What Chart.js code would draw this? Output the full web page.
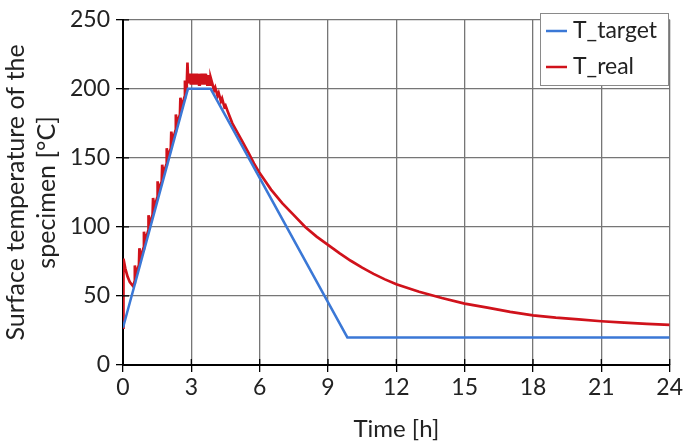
<!DOCTYPE html>
<html>
<head>
<meta charset="utf-8">
<script src="https://cdn.jsdelivr.net/npm/chart.js@4/dist/chart.umd.min.js"></script>
<style>
  html, body { margin: 0; padding: 0; background: #fff; }
  #wrap { width: 685px; height: 446px; position: relative; }
</style>
</head>
<body>
<div id="wrap"><canvas id="tempChart"></canvas></div>
<script>
// target profile (h, °C)
var targetTime = [0, 2.85, 3.85, 9.85, 24];
var targetTemp = [27, 200, 200, 20, 20];

var realTime = [0, 0.02, 0.1, 0.2, 0.3, 0.45,
    0.5, 0.52, 0.58, 0.7, 0.72, 0.78, 0.9, 0.92, 0.98, 1.1, 1.12, 1.18,
    1.3, 1.32, 1.38, 1.5, 1.52, 1.58, 1.7, 1.72, 1.78, 1.9, 1.92, 1.98,
    2.1, 2.12, 2.18, 2.3, 2.32, 2.38, 2.5, 2.52, 2.58, 2.7, 2.72, 2.78,
    2.8, 2.83, 2.86, 2.89, 2.92, 2.95, 2.98, 3.01, 3.04, 3.07, 3.1, 3.13,
    3.16, 3.19, 3.22, 3.25, 3.28, 3.31, 3.34, 3.37, 3.4, 3.43, 3.46, 3.49,
    3.52, 3.55, 3.58, 3.61, 3.64, 3.67, 3.7, 3.73, 3.76, 3.79, 3.82, 3.85, 3.9,
    4.0, 4.05, 4.15, 4.2, 4.3, 4.35, 4.45, 4.5, 4.6, 4.8, 5.0, 5.25, 5.5, 5.75,
    6, 6.25, 6.5, 7, 7.5, 8, 8.5, 9, 9.5, 10, 10.5, 11, 11.5, 12,
    13, 14, 15, 16, 17, 18, 19, 20, 21, 22, 23, 24];
var realTemp = [27, 77, 70, 64, 60, 57,
    60, 72, 66, 72.5, 84.5, 78, 84.6, 96.5, 90, 96.8, 108.5, 102,
    109, 121, 114.5, 121, 133, 126.5, 133, 145, 138.5, 145, 157, 150.5,
    157, 169, 162.5, 169.5, 181.5, 175, 181.5, 193.5, 187, 194, 206, 199,
    203, 219, 205, 211, 204, 211, 203, 211, 204, 210, 203, 211,
    204, 210, 203, 211, 204, 210, 203, 211, 204, 210, 203, 211,
    204, 210, 203, 211, 204, 210, 203, 210, 204, 209, 203, 208, 205,
    199, 201, 195, 197, 191, 193, 187, 188, 183.5, 175, 169, 161.5, 154, 146,
    139, 133, 127, 117, 108.5, 100, 93, 87, 81, 75.5, 70.5, 66, 62, 58.5,
    53, 48.5, 44.5, 41.5, 38.5, 36, 34.3, 33, 31.7, 30.7, 29.8, 29];

var xTicks = [0, 3, 6, 9, 12, 15, 18, 21, 24];
var yTicks = [0, 50, 100, 150, 200, 250];

function toPoints(xs, ys) {
    return xs.map(function(x, i) { return {x: x, y: ys[i]}; });
}

var FONT = 'Lato, "Liberation Sans", sans-serif';

// legend box drawn inside the plot, top right
var boxLegend = {
    id: 'boxLegend',
    afterDraw: function(chart) {
        var ctx = chart.ctx;
        var x0 = 540, y0 = 13, w = 128, h = 72;
        ctx.save();
        ctx.fillStyle = '#fff';
        ctx.fillRect(x0, y0, w, h);
        ctx.strokeStyle = '#8a8a8a';
        ctx.lineWidth = 1;
        ctx.strokeRect(x0 + 0.5, y0 + 0.5, w, h);
        ctx.font = '23px ' + FONT;
        ctx.textBaseline = 'middle';
        chart.data.datasets.forEach(function(ds, i) {
            var y = y0 + 18 + i * 36;
            ctx.strokeStyle = ds.borderColor;
            ctx.lineWidth = 2.5;
            ctx.beginPath();
            ctx.moveTo(x0 + 6, y);
            ctx.lineTo(x0 + 27, y);
            ctx.stroke();
            ctx.fillStyle = '#222';
            ctx.fillText(ds.label, x0 + 33, y);
        });
        ctx.restore();
    }
};

// short black tick marks reaching into the plot, as in the original
var innerTicks = {
    id: 'innerTicks',
    afterDatasetsDraw: function(chart) {
        var ctx = chart.ctx, a = chart.chartArea;
        var xs = chart.scales.x, ys = chart.scales.y;
        ctx.save();
        ctx.strokeStyle = '#000';
        ctx.lineWidth = 1.3;
        ctx.beginPath();
        xTicks.forEach(function(v) {
            var px = xs.getPixelForValue(v);
            ctx.moveTo(px, a.bottom);
            ctx.lineTo(px, a.bottom - 6);
        });
        yTicks.forEach(function(v) {
            var py = ys.getPixelForValue(v);
            ctx.moveTo(a.left, py);
            ctx.lineTo(a.left + 6, py);
        });
        ctx.stroke();
        ctx.restore();
    }
};

new Chart(document.getElementById('tempChart').getContext('2d'), {
    type: 'line',
    data: {
        datasets: [{
            label: 'T_target',
            data: toPoints(targetTime, targetTemp),
            borderColor: '#3b78d6',
            borderWidth: 2.5,
            pointRadius: 0,
            tension: 0
        }, {
            label: 'T_real',
            data: toPoints(realTime, realTemp),
            borderColor: '#d0121b',
            borderWidth: 2.7,
            pointRadius: 0,
            tension: 0
        }]
    },
    options: {
        responsive: true,
        maintainAspectRatio: false,
        animation: false,
        layout: { padding: { top: 12, right: 15, left: 0, bottom: 0 } },
        plugins: {
            legend: { display: false },
            tooltip: { enabled: false }
        },
        scales: {
            x: {
                type: 'linear',
                min: 0,
                max: 24,
                afterBuildTicks: function(axis) {
                    axis.ticks = xTicks.map(function(v) { return {value: v}; });
                },
                grid: { color: '#767676', lineWidth: 1.3, tickLength: 7, tickColor: '#000' },
                border: { color: '#000', width: 2 },
                ticks: { color: '#222', font: { family: FONT, size: 23 }, padding: 2, maxRotation: 0 },
                title: {
                    display: true,
                    text: 'Time [h]',
                    color: '#222',
                    font: { family: FONT, size: 24 },
                    padding: { top: 10, bottom: 2 }
                },
                afterFit: function(axis) { axis.height = 81; }
            },
            y: {
                min: 0,
                max: 250,
                afterBuildTicks: function(axis) {
                    axis.ticks = yTicks.map(function(v) { return {value: v}; });
                },
                grid: { color: '#767676', lineWidth: 1.3, tickLength: 7, tickColor: '#000' },
                border: { color: '#000', width: 2 },
                ticks: { color: '#222', font: { family: FONT, size: 23 }, padding: 6 },
                title: {
                    display: true,
                    text: ['Surface temperature of the', 'specimen [°C]'],
                    color: '#222',
                    font: { family: FONT, size: 25, lineHeight: 1.25 },
                    padding: { top: 0, bottom: 3 }
                },
                afterFit: function(axis) { axis.width = 123; }
            }
        }
    },
    plugins: [innerTicks, boxLegend]
});
</script>
</body>
</html>
